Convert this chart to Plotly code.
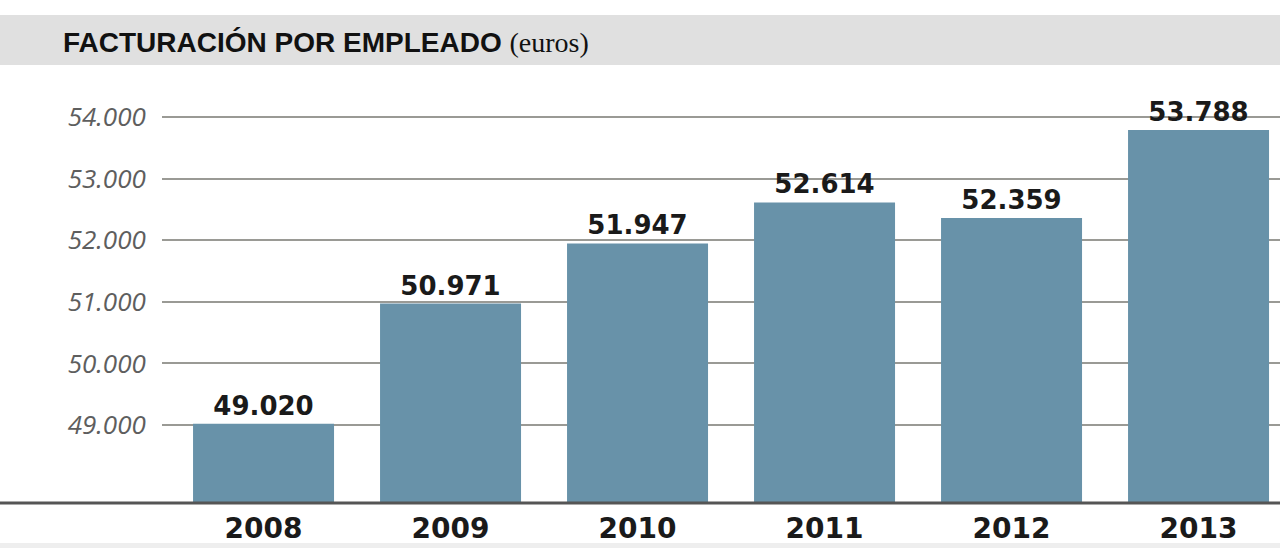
import plotly.graph_objects as go

years = ["2008", "2009", "2010", "2011", "2012", "2013"]
values = [49020, 50971, 51947, 52614, 52359, 53788]
value_labels = ["49.020", "50.971", "51.947", "52.614", "52.359", "53.788"]
tick_vals = [49000, 50000, 51000, 52000, 53000, 54000]
tick_text = ["49.000", "50.000", "51.000", "52.000", "53.000", "54.000"]

W, H = 1280, 548
L, R, T, B = 162, 0, 80, 45
pw, ph = W - L - R, H - T - B

def px_x(p):
    return (p - L) / pw

def px_y(p):
    return (H - B - p) / ph

fig = go.Figure()
fig.add_trace(go.Bar(
    x=list(range(len(years))),
    y=values,
    width=0.754,
    marker=dict(color="#6892A9", line=dict(width=0)),
    text=value_labels,
    textposition="outside",
    constraintext="none",
    cliponaxis=False,
    textfont=dict(family="DejaVu Sans", size=26, color="#1a1a1a", weight="bold"),
    hoverinfo="skip",
))

# y range: 61.6 px per 1000
ppu = 61.6 / 1000
y_bottom = 49000 - (503 - 425) / ppu
y_top = 54000 + (117 - T) / ppu

fig.update_layout(
    width=W, height=H,
    margin=dict(l=L, r=R, t=T, b=B),
    paper_bgcolor="white",
    plot_bgcolor="white",
    showlegend=False,
    bargap=0.246,
    xaxis=dict(
        range=[-0.543, -0.543 + pw / 187],
        tickvals=list(range(len(years))),
        ticktext=years,
        showgrid=False, zeroline=False, showline=False,
        ticks="outside", ticklen=0, tickcolor="rgba(0,0,0,0)",
        tickfont=dict(family="DejaVu Sans", size=28, color="#1a1a1a", weight="bold"),
    ),
    yaxis=dict(
        range=[y_bottom, y_top],
        tickvals=tick_vals,
        ticktext=tick_text,
        showgrid=True, gridcolor="#9a9a95", gridwidth=2,
        zeroline=False, showline=False,
        ticks="outside", ticklen=10, tickcolor="rgba(0,0,0,0)",
        tickfont=dict(family="Open Sans", size=26, color="#5e5e5e", style="italic"),
    ),
)

# title band
fig.add_shape(type="rect", xref="paper", yref="paper",
              x0=px_x(0), x1=px_x(W), y0=px_y(65), y1=px_y(15),
              fillcolor="#e0e0e0", line=dict(width=0), layer="below")
# bottom light band
fig.add_shape(type="rect", xref="paper", yref="paper",
              x0=px_x(0), x1=px_x(W), y0=px_y(548), y1=px_y(543),
              fillcolor="#eeeeee", line=dict(width=0), layer="below")
# baseline
fig.add_shape(type="line", xref="paper", yref="paper",
              x0=px_x(0), x1=px_x(W), y0=px_y(503), y1=px_y(503),
              line=dict(color="#555555", width=3), layer="above")

fig.add_annotation(
    xref="paper", yref="paper", x=px_x(61), y=px_y(42),
    xanchor="left", yanchor="middle", showarrow=False,
    text="<b>FACTURACIÓN POR EMPLEADO</b> <span style='font-family:Liberation Serif;font-weight:normal;font-size:28px'>(euros)</span>",
    font=dict(family="Liberation Sans", size=28, color="#111111"),
)

fig.write_html("out.html", config={"displayModeBar": False},
               post_script="document.body.style.margin='0';document.body.style.overflow='hidden';")
